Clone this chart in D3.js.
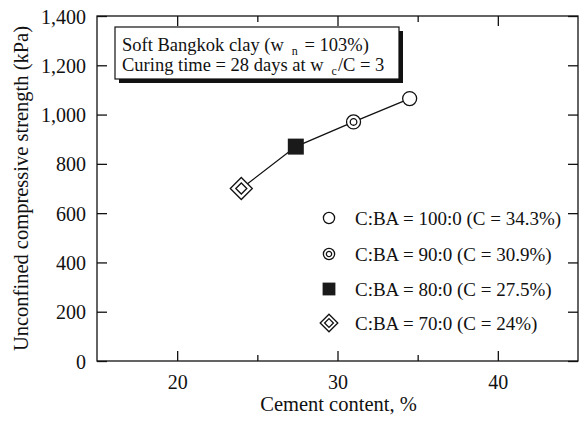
<!DOCTYPE html>
<html>
<head>
<meta charset="utf-8">
<script src="https://cdn.jsdelivr.net/npm/d3@7"></script>
<style>
  body { margin: 0; background: #fff; }
  svg { display: block; }
  svg text { font-family: "Liberation Serif", "Times New Roman", serif; }
</style>
</head>
<body>
<svg id="chart" width="584" height="432"></svg>
<script>
// values
var mixes = ["100:0", "90:0", "80:0", "70:0"];
var legendText = ["C:BA = 100:0 (C = 34.3%)", "C:BA = 90:0 (C = 30.9%)",
                  "C:BA = 80:0 (C = 27.5%)", "C:BA = 70:0 (C = 24%)"];
var markers = ["circle", "dcircle", "square", "diamond"];
var cement = [34.5, 31.0, 27.4, 24.0];
var strength = [1065, 970, 870, 700];

var xMajor = [20, 30, 40];
var xMinor = [25, 35];
var yTicks = [0, 200, 400, 600, 800, 1000, 1200, 1400];

var plotL = 97, plotR = 578, plotT = 16, plotB = 361;
var SERIF = "Liberation Serif, Times New Roman, serif";

var svg = d3.select("#chart");
var x = d3.scaleLinear().domain([15, 45]).range([plotL, plotR]);
var y = d3.scaleLinear().domain([0, 1400]).range([plotB, plotT]);

function drawMarker(g, type, s) {
    // s : scale factor of the marker
    if (type == "circle") {
        g.append("circle").attr("r", 7 * s).attr("fill", "#fff")
            .attr("stroke", "#111").attr("stroke-width", 1.3);
    } else if (type == "dcircle") {
        g.append("circle").attr("r", 7 * s).attr("fill", "#fff")
            .attr("stroke", "#111").attr("stroke-width", 1.3);
        g.append("circle").attr("r", 3.3 * s).attr("fill", "#fff")
            .attr("stroke", "#111").attr("stroke-width", 1.3);
    } else if (type == "square") {
        g.append("rect").attr("x", -8 * s).attr("y", -8 * s)
            .attr("width", 16 * s).attr("height", 16 * s).attr("fill", "#1a1a1a");
    } else if (type == "diamond") {
        var a = 11 * s, b = 5.5 * s;
        g.append("path").attr("d", "M0," + (-a) + "L" + a + ",0L0," + a + "L" + (-a) + ",0Z")
            .attr("fill", "#fff").attr("stroke", "#111").attr("stroke-width", 1.3);
        g.append("path").attr("d", "M0," + (-b) + "L" + b + ",0L0," + b + "L" + (-b) + ",0Z")
            .attr("fill", "#fff").attr("stroke", "#111").attr("stroke-width", 1.3);
    }
}

// frame
svg.append("rect").attr("x", plotL).attr("y", plotT)
    .attr("width", plotR - plotL).attr("height", plotB - plotT)
    .attr("fill", "none").attr("stroke", "#111").attr("stroke-width", 1.3);

// y axes, ticks inward
var yl = svg.append("g").attr("transform", "translate(" + plotL + ",0)")
    .call(d3.axisLeft(y).tickValues(yTicks).tickSize(-10).tickPadding(11)
        .tickFormat(d3.format(",")));
svg.append("g").attr("transform", "translate(" + plotR + ",0)")
    .call(d3.axisRight(y).tickValues(yTicks).tickSize(-10).tickFormat(""));

// x axes: major + minor ticks
svg.append("g").attr("transform", "translate(0," + plotB + ")")
    .call(d3.axisBottom(x).tickValues(xMajor).tickSize(-10).tickPadding(14));
svg.append("g").attr("transform", "translate(0," + plotB + ")")
    .call(d3.axisBottom(x).tickValues(xMinor).tickSize(-6).tickFormat(""));
svg.append("g").attr("transform", "translate(0," + plotT + ")")
    .call(d3.axisTop(x).tickValues(xMajor).tickSize(-10).tickFormat(""));
svg.append("g").attr("transform", "translate(0," + plotT + ")")
    .call(d3.axisTop(x).tickValues(xMinor).tickSize(-6).tickFormat(""));

svg.selectAll("g").attr("font-family", SERIF);
svg.selectAll(".domain").remove();
svg.selectAll(".tick line").attr("stroke", "#111").attr("stroke-width", 1.3);
svg.selectAll(".tick text").attr("fill", "#111")
    .attr("font-family", SERIF).attr("font-size", 20);
yl.selectAll(".tick text").attr("dy", "0.35em");

// axis titles
svg.append("text").attr("x", (plotL + plotR) / 2 + 1).attr("y", 411)
    .attr("text-anchor", "middle").attr("font-size", 20.5).attr("fill", "#111")
    .text("Cement content, %");
svg.append("text").attr("transform", "translate(28," + ((plotT + plotB) / 2) + ") rotate(-90)")
    .attr("text-anchor", "middle").attr("font-size", 20.5).attr("fill", "#111")
    .text("Unconfined compressive strength (kPa)");

// note box with shadow
var bx = 115, by = 27, bw = 284, bh = 52;
svg.append("rect").attr("x", bx + 4).attr("y", by + 4).attr("width", bw).attr("height", bh)
    .attr("fill", "#111");
svg.append("rect").attr("x", bx).attr("y", by).attr("width", bw).attr("height", bh)
    .attr("fill", "#fff").attr("stroke", "#111").attr("stroke-width", 1.2);
var t1 = svg.append("text").attr("x", 122).attr("y", 51).attr("font-size", 18.5).attr("fill", "#111");
t1.append("tspan").text("Soft Bangkok clay (w");
t1.append("tspan").attr("font-size", 12).attr("dx", 8).attr("dy", 4).text("n");
t1.append("tspan").attr("dx", 2).attr("dy", -4).text(" = 103%)");
var t2 = svg.append("text").attr("x", 122).attr("y", 71).attr("font-size", 18.5).attr("fill", "#111");
t2.append("tspan").text("Curing time = 28 days at w");
t2.append("tspan").attr("font-size", 12).attr("dx", 8).attr("dy", 4).text("c");
t2.append("tspan").attr("dx", 1).attr("dy", -4).text("/C = 3");

// connecting line
var pts = cement.map(function(c, i){ return [c, strength[i]]; })
    .sort(function(a, b){ return a[0] - b[0]; });
svg.append("path").datum(pts)
    .attr("d", d3.line().x(function(d){ return x(d[0]); }).y(function(d){ return y(d[1]); }))
    .attr("fill", "none").attr("stroke", "#111").attr("stroke-width", 1.3);

// markers
mixes.forEach(function(m, i){
    var g = svg.append("g").attr("transform", "translate(" + x(cement[i]) + "," + y(strength[i]) + ")");
    drawMarker(g, markers[i], 1);
});

// legend
var legY = [218, 254, 289, 323];
mixes.forEach(function(m, i){
    var g = svg.append("g").attr("transform", "translate(329," + legY[i] + ")");
    drawMarker(g, markers[i], 0.8);
    svg.append("text").attr("x", 355).attr("y", legY[i]).attr("dy", "0.35em")
        .attr("font-size", 19).attr("fill", "#111").text(legendText[i]);
});
</script>
</body>
</html>
